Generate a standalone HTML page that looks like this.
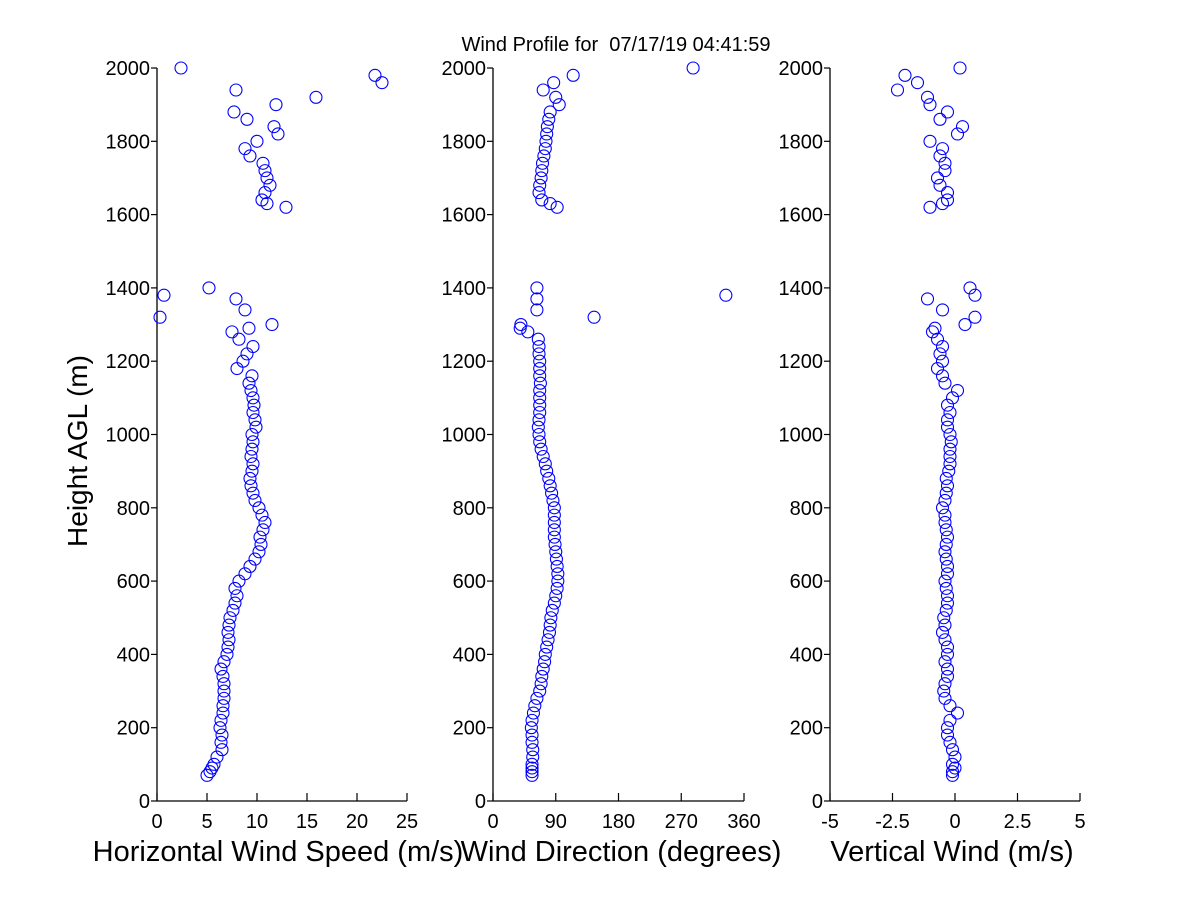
<!DOCTYPE html>
<html><head><meta charset="utf-8"><style>
body{margin:0;background:#fff}
svg text{font-family:"Liberation Sans",Arial,sans-serif;fill:#000}
</style></head><body>
<svg id="chart" width="1200" height="900" xmlns="http://www.w3.org/2000/svg">
<rect width="1200" height="900" fill="#fff"/>
<text x="616" y="51" font-size="20" text-anchor="middle" xml:space="preserve">Wind Profile for  07/17/19 04:41:59</text>
<text transform="translate(87,451) rotate(-90)" font-size="28" text-anchor="middle">Height AGL (m)</text>
<g id="plots"></g>
</svg>
<script>
const heights=[70,80,90,100,120,140,160,180,200,220,240,260,280,300,320,340,360,380,400,420,440,460,480,500,520,540,560,580,600,620,640,660,680,700,720,740,760,780,800,820,840,860,880,900,920,940,960,980,1000,1020,1040,1060,1080,1100,1120,1140,1160,1180,1200,1220,1240,1260,1280,1290,1300,1320,1340,1370,1380,1400,
1620,1630,1640,1660,1680,1700,1720,1740,1760,1780,1800,1820,1840,1860,1880,1900,1920,1940,1960,1980,2000];
const speed=[5.0,5.3,5.5,5.7,6.0,6.5,6.4,6.5,6.3,6.4,6.6,6.6,6.7,6.7,6.7,6.6,6.4,6.7,7.0,7.1,7.2,7.1,7.2,7.3,7.6,7.8,8.0,7.8,8.2,8.8,9.3,9.8,10.2,10.4,10.3,10.6,10.8,10.5,10.2,9.8,9.6,9.4,9.3,9.5,9.6,9.4,9.5,9.6,9.5,9.9,9.8,9.6,9.7,9.6,9.4,9.2,9.5,8.0,8.6,9.0,9.6,8.2,7.5,9.2,11.5,0.3,8.8,7.9,0.7,5.2,
12.9,11.0,10.5,10.8,11.3,11.0,10.8,10.6,9.3,8.8,10.0,12.1,11.7,9.0,7.7,11.9,15.9,7.9,22.5,21.8,2.4];
const direction=[56,56,56,56,57,57,56,56,55,56,58,60,63,67,69,70,72,74,75,77,79,81,82,83,85,88,90,92,93,93,92,91,90,89,88,88,88,88,88,86,84,82,80,77,75,72,69,67,66,65,66,67,67,67,67,68,67,67,67,66,66,65,50,39,40,145,63,63,334,63,
92,82,70,66,67,69,70,71,73,75,76,77,78,80,82,95,90,72,87,115,287];
const vertical=[-0.1,-0.1,0,-0.1,0,-0.1,-0.2,-0.3,-0.3,-0.2,0.1,-0.2,-0.4,-0.45,-0.4,-0.3,-0.3,-0.4,-0.3,-0.3,-0.4,-0.5,-0.4,-0.45,-0.35,-0.3,-0.3,-0.35,-0.4,-0.3,-0.3,-0.35,-0.4,-0.35,-0.3,-0.35,-0.4,-0.4,-0.5,-0.4,-0.35,-0.3,-0.35,-0.25,-0.2,-0.2,-0.2,-0.15,-0.2,-0.3,-0.3,-0.2,-0.3,-0.1,0.1,-0.4,-0.5,-0.7,-0.5,-0.6,-0.5,-0.7,-0.9,-0.8,0.4,0.8,-0.5,-1.1,0.8,0.6,
-1.0,-0.5,-0.3,-0.3,-0.6,-0.7,-0.4,-0.4,-0.6,-0.5,-1.0,0.1,0.3,-0.6,-0.3,-1.0,-1.1,-2.3,-1.5,-2.0,0.2];
const yTicks=[0,200,400,600,800,1000,1200,1400,1600,1800,2000];
const p1Ticks=[0,5,10,15,20,25], p1Labels=["0","5","10","15","20","25"];
const p2Ticks=[0,90,180,270,360], p2Labels=["0","90","180","270","360"];
const p3Ticks=[-5,-2.5,0,2.5,5], p3Labels=["-5","-2.5","0","2.5","5"];

const NS="http://www.w3.org/2000/svg";
const root=document.getElementById('plots');
const Y0=801,Y1=68;
const yScale=h=>Y0+(h/2000)*(Y1-Y0);
function mk(t,a,parent){const e=document.createElementNS(NS,t);for(const k in a)e.setAttribute(k,a[k]);(parent||root).appendChild(e);return e;}
function panel(name,x0,x1,xmin,xmax,ticks,labels,vals,title,titleX){
  const g=mk('g',{});
  
  
  const xs=v=>x0+(v-xmin)/(xmax-xmin)*(x1-x0);
  const ya=mk('line',{x1:x0,y1:Y1,x2:x0,y2:Y0,stroke:'#000','stroke-width':1.3},g);
  
  
  const xa=mk('line',{x1:x0,y1:Y0,x2:x1,y2:Y0,stroke:'#000','stroke-width':1.3},g);
  
  
  yTicks.forEach(t=>{
    const y=yScale(t);
    mk('line',{x1:x0-6,y1:y,x2:x0,y2:y,stroke:'#000','stroke-width':1.2},g);
    const tx=mk('text',{x:x0-7,y:y+7,'font-size':20,'text-anchor':'end'},g);
    tx.textContent=t;
    
    
  });
  ticks.forEach((t,i)=>{
    const x=xs(t);
    mk('line',{x1:x,y1:Y0-8,x2:x,y2:Y0,stroke:'#000','stroke-width':1.2},g);
    const tx=mk('text',{x:x,y:828,'font-size':20,'text-anchor':'middle'},g);
    tx.textContent=labels[i];
    
    
  });
  vals.forEach((v,i)=>{
    const c=mk('circle',{cx:xs(v),cy:yScale(heights[i]),r:6,fill:'none',stroke:'#0000ff','stroke-width':1.1},g);
    
    
  });
  const tt=mk('text',{x:titleX,y:861,'font-size':29,'text-anchor':'middle'},g);
  tt.textContent=title;
  
  
}
panel('horizontal-speed',157,407,0,25,p1Ticks,p1Labels,speed,'Horizontal Wind Speed (m/s)',278);
panel('wind-direction',493,744,0,360,p2Ticks,p2Labels,direction,'Wind Direction (degrees)',621);
panel('vertical-wind',830,1080,-5,5,p3Ticks,p3Labels,vertical,'Vertical Wind (m/s)',952);
</script>
</body></html>
